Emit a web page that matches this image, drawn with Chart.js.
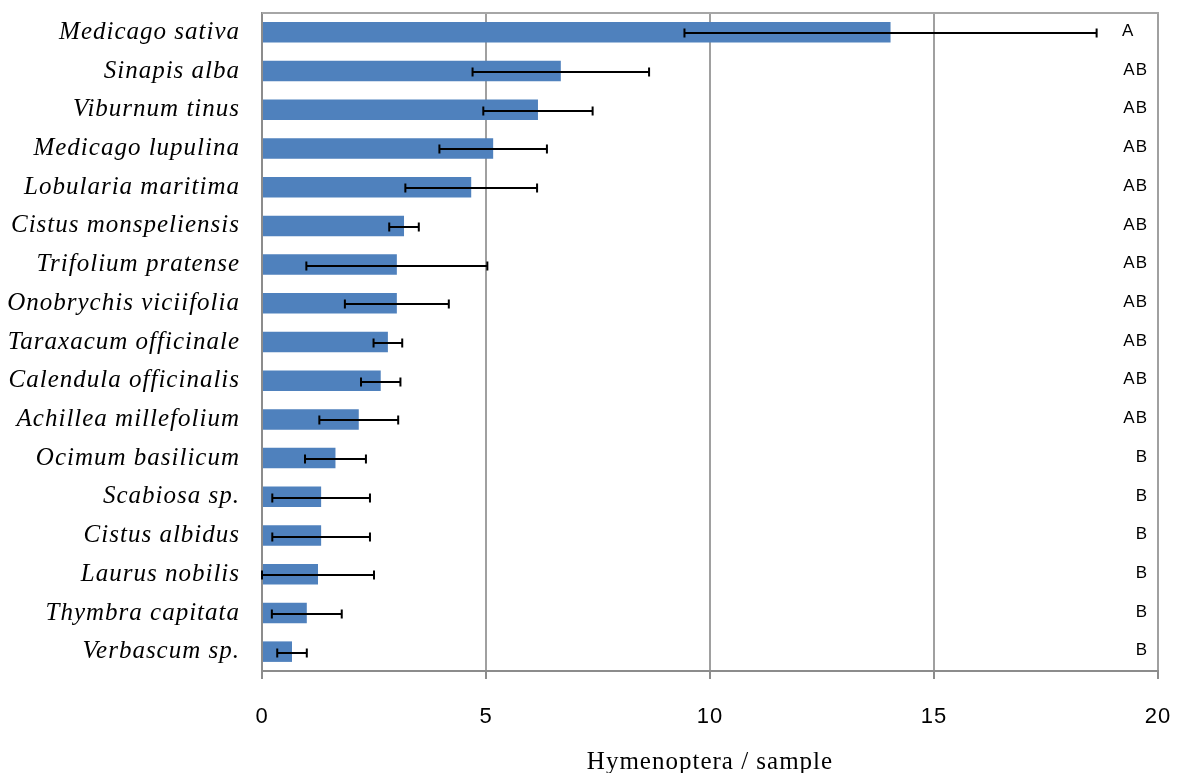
<!DOCTYPE html>
<html>
<head>
<meta charset="utf-8">
<script src="https://cdn.jsdelivr.net/npm/chart.js@4/dist/chart.umd.min.js"></script>
<style>
  html, body { margin: 0; padding: 0; background: #ffffff; }
  #wrap { width: 1184px; height: 773px; }
</style>
</head>
<body>
<div id="wrap"><canvas id="chart" width="1184" height="773"></canvas></div>
<script>
// Plant species, top to bottom
const species = [
  'Medicago sativa', 'Sinapis alba', 'Viburnum tinus', 'Medicago lupulina',
  'Lobularia maritima', 'Cistus monspeliensis', 'Trifolium pratense',
  'Onobrychis viciifolia', 'Taraxacum officinale', 'Calendula officinalis',
  'Achillea millefolium', 'Ocimum basilicum', 'Scabiosa sp.', 'Cistus albidus',
  'Laurus nobilis', 'Thymbra capitata', 'Verbascum sp.'
];

// Mean Hymenoptera per sample
const meanPerSample = [
  14.03, 6.67, 6.16, 5.16, 4.67, 3.17, 3.01, 3.01, 2.81, 2.65,
  2.16, 1.64, 1.32, 1.32, 1.25, 1.00, 0.67
];

// Standard error (half-width of the error bar)
const stdError = [
  4.60, 1.97, 1.22, 1.20, 1.47, 0.33, 2.02, 1.16, 0.32, 0.44,
  0.88, 0.68, 1.09, 1.09, 1.25, 0.78, 0.33
];

// Significance groups
const groupLetters = [
  'A', 'AB', 'AB', 'AB', 'AB', 'AB', 'AB', 'AB', 'AB', 'AB',
  'AB', 'B', 'B', 'B', 'B', 'B', 'B'
];

// Horizontal axis
const xMin = 0;
const xMax = 20;
const xStep = 5;
const xTitle = 'Hymenoptera / sample';

// Slightly loose tracking for all chart text
const looseText = {
  id: 'looseText',
  beforeDraw(chart) {
    chart.ctx.letterSpacing = '1px';
  }
};

// Error bars with end caps, drawn on top of the bars
const errorBars = {
  id: 'errorBars',
  afterDatasetsDraw(chart) {
    const ctx = chart.ctx;
    const xs = chart.scales.x;
    const meta = chart.getDatasetMeta(0);
    ctx.save();
    ctx.strokeStyle = '#000000';
    ctx.lineWidth = 2;
    meta.data.forEach((bar, i) => {
      const y = Math.round(bar.y) + 1;
      const x1 = xs.getPixelForValue(Math.max(0, meanPerSample[i] - stdError[i]));
      const x2 = xs.getPixelForValue(meanPerSample[i] + stdError[i]);
      ctx.beginPath();
      ctx.moveTo(x1, y); ctx.lineTo(x2, y);
      ctx.moveTo(x1, y - 4.5); ctx.lineTo(x1, y + 4.5);
      ctx.moveTo(x2, y - 4.5); ctx.lineTo(x2, y + 4.5);
      ctx.stroke();
    });
    ctx.restore();
  }
};

// Top edge of the plot frame and the group letters along the right side
const frameAndLetters = {
  id: 'frameAndLetters',
  afterDraw(chart) {
    const ctx = chart.ctx;
    const a = chart.chartArea;
    const ys = chart.scales.y;
    ctx.save();
    ctx.strokeStyle = '#a6a6a6';
    ctx.lineWidth = 2;
    ctx.beginPath();
    ctx.moveTo(a.left, a.top);
    ctx.lineTo(a.right + 1, a.top);
    ctx.stroke();

    ctx.fillStyle = '#000000';
    ctx.font = '17px "Liberation Sans", Arial, sans-serif';
    ctx.textBaseline = 'middle';
    groupLetters.forEach((txt, i) => {
      const y = ys.getPixelForValue(i) - 1;
      // a lone "A" starts the column; "AB" and "B" end flush on the right
      if (txt === 'A') {
        ctx.textAlign = 'left';
        ctx.fillText(txt, a.right - 36, y);
      } else {
        ctx.textAlign = 'right';
        ctx.fillText(txt, a.right - 10, y);
      }
    });
    ctx.restore();
  }
};

new Chart(document.getElementById('chart'), {
  type: 'bar',
  data: {
    labels: species,
    datasets: [{
      data: meanPerSample,
      backgroundColor: '#4f81bd',
      borderWidth: 0,
      barPercentage: 0.53,
      categoryPercentage: 1.0
    }]
  },
  options: {
    indexAxis: 'y',
    responsive: false,
    animation: false,
    devicePixelRatio: 1,
    layout: { padding: { top: 13, right: 26, bottom: 0, left: 0 } },
    plugins: {
      legend: { display: false },
      tooltip: { enabled: false }
    },
    scales: {
      x: {
        type: 'linear',
        min: xMin,
        max: xMax,
        afterFit(scale) {
          scale.height = 102;
          scale.paddingLeft = 0;
          scale.paddingRight = 0;
        },
        ticks: {
          stepSize: xStep,
          color: '#000000',
          padding: 25,
          font: { family: '"Liberation Sans", Arial, sans-serif', size: 22 }
        },
        grid: {
          color: '#a0a0a0',
          lineWidth: 2,
          drawTicks: true,
          tickLength: 8,
          tickColor: '#8c8c8c'
        },
        border: { display: true, color: '#8c8c8c', width: 2 },
        title: {
          display: true,
          text: xTitle,
          color: '#000000',
          padding: { top: 0, bottom: -2 },
          font: { family: '"Liberation Serif", "Times New Roman", serif', size: 25, lineHeight: 1 }
        }
      },
      y: {
        type: 'category',
        afterFit(scale) {
          scale.width = 262;
          scale.paddingTop = 0;
          scale.paddingBottom = 0;
        },
        ticks: {
          color: '#000000',
          padding: 22,
          font: { family: '"Liberation Serif", "Times New Roman", serif', size: 25, style: 'italic' }
        },
        grid: { display: false, drawTicks: false, tickLength: 0 },
        border: { display: true, color: '#8c8c8c', width: 2 }
      }
    }
  },
  plugins: [looseText, errorBars, frameAndLetters]
});
</script>
</body>
</html>
